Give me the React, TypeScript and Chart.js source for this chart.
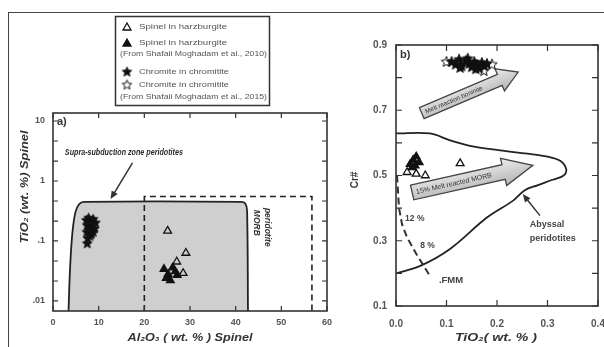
import React, { useEffect, useRef } from 'react';
import { Chart, registerables } from 'chart.js';

Chart.register(...registerables);

const FONT = "'Liberation Sans', Arial, sans-serif";

// ---------------- Panel a data ----------------
const aXTicks = [0, 10, 20, 30, 40, 50, 60];
const aXLabels = ['0', '10', '20', '30', '40', '50', '60'];
const aYTicks = [10, 1, 0.1, 0.01];
const aYLabels = ['10', '1', '.1', '.01'];
const aYMinor = [10, 4.64, 2.15, 1, 0.464, 0.215, 0.1, 0.0464, 0.0215, 0.01];

const sszAl = [3.4, 3.6, 3.9, 4.3, 4.9, 5.7, 6.8, 41.2, 42.1, 42.5, 42.7];
const sszTi = [0.0068, 0.02, 0.06, 0.15, 0.3, 0.41, 0.45, 0.45, 0.42, 0.32, 0.0068];
const morbAl = [20, 20, 56.7, 56.7];
const morbTi = [0.0068, 0.55, 0.55, 0.0068];

const harzOpenAl = [25.1, 29.1, 27.1, 28.5];
const harzOpenTi = [0.147, 0.063, 0.045, 0.029];
const harzFilledAl = [24.3, 25.2, 26.2, 27.2, 25.7, 26.8, 24.8];
const harzFilledTi = [0.034, 0.028, 0.036, 0.027, 0.022, 0.031, 0.024];
const chromAl = [7.3, 7.8, 8.3, 8.8, 9.3, 7.5, 8.0, 8.6, 9.1, 7.4, 7.9, 8.4, 7.6, 8.1, 7.5, 8.8];
const chromTi = [0.22, 0.24, 0.21, 0.23, 0.2, 0.18, 0.17, 0.19, 0.16, 0.14, 0.15, 0.13, 0.11, 0.12, 0.09, 0.14];

const sszArrowAl = [17.4, 12.6];
const sszArrowTi = [2.0, 0.5];

// ---------------- Panel b data ----------------
const bXTicks = [0, 0.1, 0.2, 0.3, 0.4];
const bXLabels = ['0.0', '0.1', '0.2', '0.3', '0.4'];
const bYTicks = [0.1, 0.3, 0.5, 0.7, 0.9];
const bYLabels = ['0.1', '0.3', '0.5', '0.7', '0.9'];
const bYMinor = [0.1, 0.2, 0.3, 0.4, 0.5, 0.6, 0.7, 0.8, 0.9];

const abyssTi = [0, 0.067, 0.107, 0.152, 0.206, 0.26, 0.3, 0.325, 0.337, 0.332, 0.31, 0.28, 0.255, 0.232, 0.18, 0.107, 0.048, 0];
const abyssCr = [0.629, 0.629, 0.608, 0.589, 0.577, 0.567, 0.558, 0.545, 0.52, 0.5, 0.487, 0.47, 0.455, 0.423, 0.371, 0.275, 0.223, 0.2];
const fmmTi = [0.002, 0.006, 0.012, 0.022, 0.04, 0.066];
const fmmCr = [0.5, 0.4, 0.35, 0.31, 0.26, 0.195];

const harzBFilledTi = [0.028, 0.034, 0.04, 0.046, 0.032, 0.038];
const harzBFilledCr = [0.535, 0.548, 0.558, 0.54, 0.525, 0.53];
const harzBOpenTi = [0.022, 0.04, 0.058, 0.127];
const harzBOpenCr = [0.51, 0.505, 0.5, 0.537];
const chromBTi = [0.11, 0.118, 0.125, 0.13, 0.138, 0.145, 0.15, 0.155, 0.16, 0.165, 0.17, 0.175, 0.18, 0.127, 0.142, 0.158];
const chromBCr = [0.848, 0.84, 0.855, 0.835, 0.85, 0.842, 0.832, 0.848, 0.838, 0.828, 0.845, 0.835, 0.842, 0.83, 0.858, 0.826];
const chromBOpenTi = [0.1, 0.19, 0.174];
const chromBOpenCr = [0.848, 0.84, 0.82];

const boniniteArrowTi = [0.051, 0.242];
const boniniteArrowCr = [0.691, 0.817];
const morbArrowTi = [0.032, 0.271];
const morbArrowCr = [0.448, 0.531];
const abyssArrowTi = [0.285, 0.251];
const abyssArrowCr = [0.377, 0.443];

const pts = (xs: number[], ys: number[]) => xs.map((x, i) => ({ x, y: ys[i] }));

function makeStar(filled: boolean, r = 5.5) {
  const size = Math.ceil(r * 2 + 3);
  const c = document.createElement('canvas');
  c.width = size; c.height = size;
  const g = c.getContext('2d')!;
  const cx = size / 2, cy = size / 2, ri = r * 0.45;
  g.beginPath();
  for (let i = 0; i < 10; i++) {
    const ang = -Math.PI / 2 + (i * Math.PI) / 5;
    const rr = i % 2 === 0 ? r : ri;
    g.lineTo(cx + rr * Math.cos(ang), cy + rr * Math.sin(ang));
  }
  g.closePath();
  g.fillStyle = filled ? '#111' : '#fff';
  g.fill();
  g.strokeStyle = '#111';
  g.lineWidth = 1;
  g.stroke();
  return c;
}

// size = glyph height; fit = target width (text squeezed/stretched horizontally)
type TOpt = { size: number; weight?: string; italic?: boolean; color?: string; align?: CanvasTextAlign; rot?: number; fit?: number };
function drawText(ctx: CanvasRenderingContext2D, s: string, x: number, y: number, o: TOpt) {
  ctx.save();
  ctx.font = `${o.italic ? 'italic ' : ''}${o.weight || 'normal'} ${o.size}px ${FONT}`;
  ctx.fillStyle = o.color || '#333';
  ctx.textAlign = o.align || 'left';
  ctx.textBaseline = 'middle';
  ctx.translate(x, y);
  if (o.rot) ctx.rotate(o.rot);
  if (o.fit) {
    const w = ctx.measureText(s).width;
    ctx.scale(o.fit / w, 1);
  }
  ctx.fillText(s, 0, 0);
  ctx.restore();
}

function lineArrow(ctx: CanvasRenderingContext2D, x1: number, y1: number, x2: number, y2: number) {
  const ang = Math.atan2(y2 - y1, x2 - x1);
  ctx.save();
  ctx.strokeStyle = '#333';
  ctx.fillStyle = '#333';
  ctx.lineWidth = 1.5;
  ctx.beginPath();
  ctx.moveTo(x1, y1);
  ctx.lineTo(x2 - 5 * Math.cos(ang), y2 - 5 * Math.sin(ang));
  ctx.stroke();
  ctx.translate(x2, y2);
  ctx.rotate(ang);
  ctx.beginPath();
  ctx.moveTo(0, 0);
  ctx.lineTo(-8, -3.5);
  ctx.lineTo(-8, 3.5);
  ctx.closePath();
  ctx.fill();
  ctx.restore();
}

function blockArrow(ctx: CanvasRenderingContext2D, x1: number, y1: number, x2: number, y2: number, w: number, hw: number, hl: number, label: string, fsz: number) {
  const ang = Math.atan2(y2 - y1, x2 - x1);
  const L = Math.hypot(x2 - x1, y2 - y1);
  ctx.save();
  ctx.translate(x1, y1);
  ctx.rotate(ang);
  ctx.beginPath();
  ctx.moveTo(0, -w);
  ctx.lineTo(L - hl, -w);
  ctx.lineTo(L - hl, -hw);
  ctx.lineTo(L, 0);
  ctx.lineTo(L - hl, hw);
  ctx.lineTo(L - hl, w);
  ctx.lineTo(0, w);
  ctx.closePath();
  const grad = ctx.createLinearGradient(0, -hw, 0, hw);
  grad.addColorStop(0, '#ececec');
  grad.addColorStop(1, '#b4b4b4');
  ctx.fillStyle = grad;
  ctx.fill();
  ctx.strokeStyle = '#444';
  ctx.lineWidth = 1.3;
  ctx.stroke();
  ctx.font = `${fsz}px ${FONT}`;
  ctx.fillStyle = '#333';
  ctx.textBaseline = 'middle';
  ctx.textAlign = 'left';
  ctx.fillText(label, 4, 0.5);
  ctx.restore();
}

function boxTicks(xTicks: number[], yTicks: number[], len: number) {
  return {
    id: 'boxTicks',
    afterDatasetsDraw(chart: any) {
      const { ctx, chartArea: a, scales } = chart;
      ctx.save();
      ctx.strokeStyle = '#333';
      ctx.lineWidth = 1.2;
      ctx.beginPath();
      for (const v of xTicks) {
        const px = scales.x.getPixelForValue(v);
        ctx.moveTo(px, a.bottom); ctx.lineTo(px, a.bottom - len);
        ctx.moveTo(px, a.top); ctx.lineTo(px, a.top + len);
      }
      for (const v of yTicks) {
        const py = scales.y.getPixelForValue(v);
        ctx.moveTo(a.left, py); ctx.lineTo(a.left + len, py);
        ctx.moveTo(a.right, py); ctx.lineTo(a.right - len, py);
      }
      ctx.stroke();
      ctx.lineWidth = 1.6;
      ctx.strokeRect(a.left, a.top, a.right - a.left, a.bottom - a.top);
      ctx.restore();
    },
  };
}

const tickFont = { family: FONT, size: 9, weight: 'bold' as const };

export default function App() {
  const refA = useRef<HTMLCanvasElement>(null);
  const refB = useRef<HTMLCanvasElement>(null);

  useEffect(() => {
    const starF = makeStar(true, 5);
    const starO = makeStar(false, 5);
    const starFb = makeStar(true, 5.5);
    const starOb = makeStar(false, 5.5);

    const annotA = {
      id: 'annotA',
      afterDraw(chart: any) {
        const { ctx, chartArea: a, scales } = chart;
        const X = (v: number) => scales.x.getPixelForValue(v);
        const Y = (v: number) => scales.y.getPixelForValue(v);
        drawText(ctx, 'a)', a.left + 4, a.top + 9, { size: 11, weight: 'bold' });
        drawText(ctx, 'Supra-subduction zone peridotites', X(2.6), Y(3.04), { size: 9.5, weight: 'bold', italic: true, color: '#2a2a2a', fit: 118 });
        lineArrow(ctx, X(sszArrowAl[0]), Y(sszArrowTi[0]), X(sszArrowAl[1]), Y(sszArrowTi[1]));
        drawText(ctx, 'MORB', X(44.6), Y(0.33), { size: 8.5, italic: true, weight: 'bold', rot: Math.PI / 2 });
        drawText(ctx, 'peridotite', X(46.9), Y(0.356), { size: 8.5, italic: true, weight: 'bold', rot: Math.PI / 2 });
        // axis titles
        drawText(ctx, 'Al₂O₃ ( wt. % ) Spinel', 190, 338, { size: 11.5, weight: 'bold', italic: true, align: 'center', fit: 125 });
        drawText(ctx, 'TiO₂ (wt. %) Spinel', 25, 187, { size: 11, weight: 'bold', italic: true, align: 'center', rot: -Math.PI / 2, fit: 113 });
        // legend
        ctx.save();
        ctx.strokeStyle = '#333';
        ctx.lineWidth = 1.5;
        ctx.strokeRect(115.5, 16.5, 154, 89);
        const tri = (cx: number, cy: number, filled: boolean) => {
          ctx.beginPath();
          ctx.moveTo(cx, cy - 4);
          ctx.lineTo(cx + 4, cy + 3);
          ctx.lineTo(cx - 4, cy + 3);
          ctx.closePath();
          if (filled) { ctx.fillStyle = '#111'; ctx.fill(); }
          ctx.lineWidth = 1.3;
          ctx.strokeStyle = '#111';
          ctx.stroke();
        };
        tri(127, 27, false);
        tri(127, 43, true);
        ctx.drawImage(starF, 127 - starF.width / 2, 72 - starF.height / 2);
        ctx.drawImage(starO, 127 - starO.width / 2, 85 - starO.height / 2);
        ctx.restore();
        const lo = { size: 7.5, color: '#555' };
        drawText(ctx, 'Spinel in harzburgite', 139, 27, { ...lo, fit: 88 });
        drawText(ctx, 'Spinel in harzburgite', 139, 43, { ...lo, fit: 88 });
        drawText(ctx, '(From Shafaii Moghadam et al., 2010)', 120, 54, { ...lo, fit: 147 });
        drawText(ctx, 'Chromite in chromitite', 139, 72, { ...lo, fit: 90 });
        drawText(ctx, 'Chromite in chromitite', 139, 85, { ...lo, fit: 90 });
        drawText(ctx, '(From Shafaii Moghadam et al., 2015)', 120, 97, { ...lo, fit: 147 });
      },
    };

    const annotBPre = {
      id: 'annotBPre',
      beforeDatasetsDraw(chart: any) {
        const { ctx, scales } = chart;
        const X = (v: number) => scales.x.getPixelForValue(v);
        const Y = (v: number) => scales.y.getPixelForValue(v);
        blockArrow(ctx, X(boniniteArrowTi[0]), Y(boniniteArrowCr[0]), X(boniniteArrowTi[1]), Y(boniniteArrowCr[1]), 6, 12, 20, 'Melt reaction boninite', 6.5);
        blockArrow(ctx, X(morbArrowTi[0]), Y(morbArrowCr[0]), X(morbArrowTi[1]), Y(morbArrowCr[1]), 7.5, 14, 30, '15% Melt reacted MORB', 7);
      },
    };

    const annotB = {
      id: 'annotB',
      afterDraw(chart: any) {
        const { ctx, chartArea: a, scales } = chart;
        const X = (v: number) => scales.x.getPixelForValue(v);
        const Y = (v: number) => scales.y.getPixelForValue(v);
        drawText(ctx, 'b)', a.left + 4, a.top + 10, { size: 11, weight: 'bold' });
        drawText(ctx, 'Abyssal', X(0.265), Y(0.349), { size: 9, weight: 'bold', color: '#444' });
        drawText(ctx, 'peridotites', X(0.265), Y(0.306), { size: 9, weight: 'bold', color: '#444' });
        lineArrow(ctx, X(abyssArrowTi[0]), Y(abyssArrowCr[0]), X(abyssArrowTi[1]), Y(abyssArrowCr[1]));
        drawText(ctx, '12 %', X(0.018), Y(0.367), { size: 8.5, weight: 'bold', color: '#444' });
        drawText(ctx, '8 %', X(0.048), Y(0.285), { size: 8.5, weight: 'bold', color: '#444' });
        drawText(ctx, '.FMM', X(0.085), Y(0.178), { size: 9.5, weight: 'bold', color: '#444' });
        drawText(ctx, 'TiO₂( wt. % )', 156, 338, { size: 11.5, weight: 'bold', italic: true, align: 'center', fit: 82 });
        drawText(ctx, 'Cr#', 15, 180, { size: 10, weight: 'bold', align: 'center', rot: -Math.PI / 2 });
      },
    };

    const common = {
      responsive: false,
      animation: false as const,
      devicePixelRatio: 1,
      events: [] as any[],
    };

    const chartA = new Chart(refA.current!, {
      type: 'scatter',
      data: {
        datasets: [
          { label: 'Chromite in chromitite', data: pts(chromAl, chromTi), pointStyle: starF as any, pointRadius: 5, order: 1 },
          { label: 'Spinel in harzburgite (2010)', data: pts(harzFilledAl, harzFilledTi), pointStyle: 'triangle', pointRadius: 4.5, backgroundColor: '#111', borderColor: '#111', borderWidth: 1.2, order: 2 },
          { label: 'Spinel in harzburgite', data: pts(harzOpenAl, harzOpenTi), pointStyle: 'triangle', pointRadius: 4.5, backgroundColor: 'rgba(0,0,0,0)', borderColor: '#111', borderWidth: 1.3, order: 3 },
          { label: 'MORB peridotite', data: pts(morbAl, morbTi), showLine: true, borderColor: '#222', borderWidth: 1.6, borderDash: [6, 4], pointRadius: 0, fill: false, order: 8 },
          { label: 'SSZ peridotites', data: pts(sszAl, sszTi), showLine: true, borderColor: '#222', borderWidth: 1.8, backgroundColor: '#cfcfcf', fill: 'start', pointRadius: 0, tension: 0.3, order: 10 },
        ],
      },
      options: {
        ...common,
        layout: { padding: { left: 0, right: 13, top: 113, bottom: 0 } },
        plugins: { legend: { display: false }, tooltip: { enabled: false } },
        scales: {
          x: {
            type: 'linear', min: 0, max: 60,
            grid: { display: false, drawTicks: false }, border: { display: false },
            afterBuildTicks: (s: any) => { s.ticks = aXTicks.map((v) => ({ value: v })); },
            afterFit: (s: any) => { s.height = 36; s.paddingLeft = 0; s.paddingRight = 0; },
            ticks: { autoSkip: false, maxRotation: 0, padding: 6, color: '#555', font: tickFont, callback: (_v: any, i: number) => aXLabels[i] ?? '' },
          },
          y: {
            type: 'logarithmic', min: 0.0068, max: 13.6,
            grid: { display: false, drawTicks: false }, border: { display: false },
            afterBuildTicks: (s: any) => { s.ticks = aYTicks.map((v) => ({ value: v })); },
            afterFit: (s: any) => { s.width = 53; s.paddingTop = 0; s.paddingBottom = 0; },
            ticks: { autoSkip: false, padding: 8, color: '#555', font: tickFont, callback: (_v: any, i: number) => aYLabels[i] ?? '' },
          },
        },
      } as any,
      plugins: [boxTicks(aXTicks, aYMinor, 5), annotA],
    });

    const chartB = new Chart(refB.current!, {
      type: 'scatter',
      data: {
        datasets: [
          { label: 'Chromite in chromitite (2015)', data: pts(chromBOpenTi, chromBOpenCr), pointStyle: starOb as any, pointRadius: 5, order: 2 },
          { label: 'Chromite in chromitite', data: pts(chromBTi, chromBCr), pointStyle: starFb as any, pointRadius: 5, order: 1 },
          { label: 'Spinel in harzburgite (2010)', data: pts(harzBFilledTi, harzBFilledCr), pointStyle: 'triangle', pointRadius: 4.5, backgroundColor: '#111', borderColor: '#111', borderWidth: 1.2, order: 3 },
          { label: 'Spinel in harzburgite', data: pts(harzBOpenTi, harzBOpenCr), pointStyle: 'triangle', pointRadius: 4.5, backgroundColor: 'rgba(0,0,0,0)', borderColor: '#111', borderWidth: 1.3, order: 4 },
          { label: 'FMM melting', data: pts(fmmTi, fmmCr), showLine: true, borderColor: '#333', borderWidth: 2, borderDash: [7, 4], pointRadius: 0, fill: false, order: 8 },
          { label: 'Abyssal peridotites', data: pts(abyssTi, abyssCr), showLine: true, borderColor: '#222', borderWidth: 1.8, pointRadius: 0, fill: false, tension: 0.35, order: 9 },
        ],
      },
      options: {
        ...common,
        layout: { padding: { left: 0, right: 6, top: 45, bottom: 0 } },
        plugins: { legend: { display: false }, tooltip: { enabled: false } },
        scales: {
          x: {
            type: 'linear', min: 0, max: 0.4,
            grid: { display: false, drawTicks: false }, border: { display: false },
            afterBuildTicks: (s: any) => { s.ticks = bXTicks.map((v) => ({ value: v })); },
            afterFit: (s: any) => { s.height = 41; s.paddingLeft = 0; s.paddingRight = 0; },
            ticks: { autoSkip: false, maxRotation: 0, padding: 12, color: '#555', font: { ...tickFont, size: 10 }, callback: (_v: any, i: number) => bXLabels[i] ?? '' },
          },
          y: {
            type: 'linear', min: 0.1, max: 0.9,
            grid: { display: false, drawTicks: false }, border: { display: false },
            afterBuildTicks: (s: any) => { s.ticks = bYTicks.map((v) => ({ value: v })); },
            afterFit: (s: any) => { s.width = 56; s.paddingTop = 0; s.paddingBottom = 0; },
            ticks: { autoSkip: false, padding: 9, color: '#555', font: { ...tickFont, size: 10 }, callback: (_v: any, i: number) => bYLabels[i] ?? '' },
          },
        },
      } as any,
      plugins: [annotBPre, boxTicks(bXTicks, bYMinor, 6), annotB],
    });

    return () => {
      chartA.destroy();
      chartB.destroy();
    };
  }, []);

  return (
    <div style={{ position: 'fixed', left: 0, top: 0, width: 604, height: 347, background: '#fff', overflow: 'hidden' }}>
      <canvas ref={refA} width={340} height={347} style={{ position: 'absolute', left: 0, top: 0, width: 340, height: 347 }} />
      <canvas ref={refB} width={264} height={347} style={{ position: 'absolute', left: 340, top: 0, width: 264, height: 347 }} />
      <div style={{ position: 'absolute', left: 8, top: 12, width: 596, height: 0, borderTop: '1.5px solid #444' }} />
      <div style={{ position: 'absolute', left: 8, top: 12, width: 0, height: 335, borderLeft: '1.5px solid #444' }} />
    </div>
  );
}
